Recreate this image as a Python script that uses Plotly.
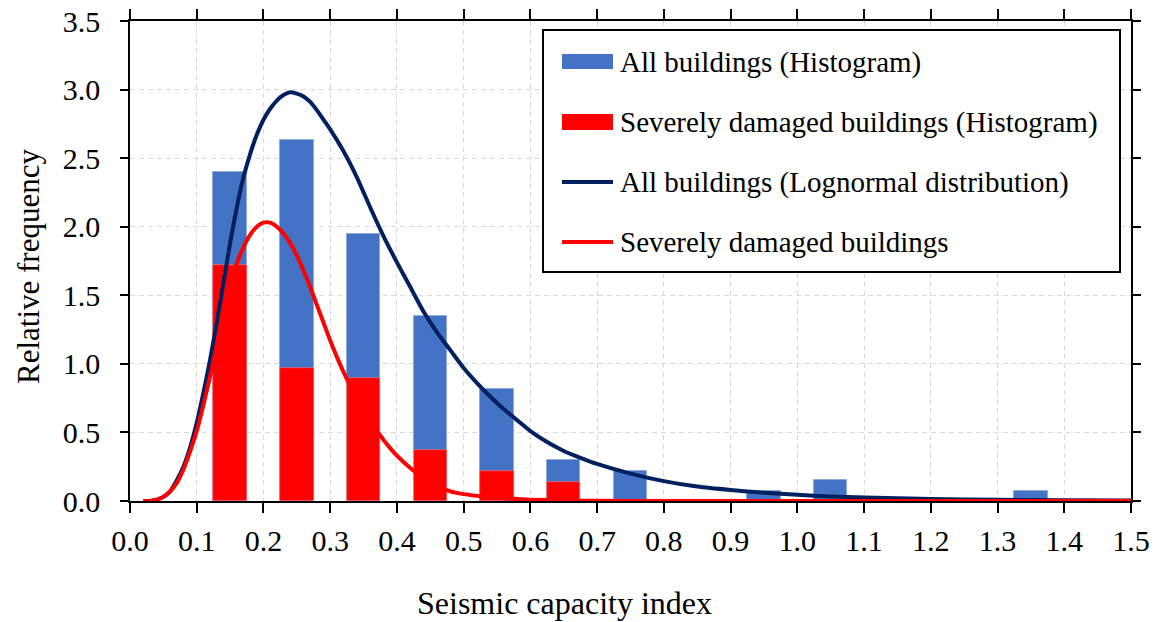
import plotly.graph_objects as go

# Histogram bins (bin centres, bin width 0.05 drawn)
bin_centers = [0.15, 0.25, 0.35, 0.45, 0.55, 0.65, 0.75, 0.85, 0.95, 1.05, 1.15, 1.25, 1.35]
all_hist = [2.40, 2.63, 1.95, 1.35, 0.82, 0.30, 0.22, 0.0, 0.07, 0.15, 0.0, 0.0, 0.07]
severe_hist = [1.72, 0.97, 0.90, 0.37, 0.22, 0.14, 0.0, 0.0, 0.0, 0.0, 0.0, 0.0, 0.0]

# Fitted lognormal density, all buildings
all_curve_x = [0.02, 0.03, 0.04, 0.05, 0.06, 0.07, 0.08, 0.09, 0.10, 0.11, 0.12, 0.13,
               0.14, 0.15, 0.16, 0.17, 0.18, 0.19, 0.20, 0.21, 0.22, 0.23, 0.24, 0.25,
               0.26, 0.27, 0.28, 0.29, 0.30, 0.32, 0.34, 0.36, 0.38, 0.40, 0.42, 0.44,
               0.46, 0.48, 0.50, 0.52, 0.54, 0.56, 0.58, 0.60, 0.625, 0.65, 0.675, 0.70,
               0.75, 0.80, 0.85, 0.90, 0.95, 1.00, 1.05, 1.10, 1.20, 1.30, 1.40, 1.50]
all_curve_y = [0.00, 0.00, 0.01, 0.03, 0.07, 0.15, 0.25, 0.39, 0.57, 0.79, 1.03, 1.30,
               1.59, 1.88, 2.14, 2.36, 2.53, 2.67, 2.78, 2.86, 2.92, 2.96, 2.98, 2.97,
               2.95, 2.91, 2.85, 2.78, 2.71, 2.55, 2.36, 2.14, 1.93, 1.74, 1.56, 1.38,
               1.23, 1.10, 0.97, 0.86, 0.76, 0.67, 0.59, 0.51, 0.43, 0.365, 0.315, 0.27,
               0.20, 0.145, 0.105, 0.08, 0.06, 0.045, 0.033, 0.025, 0.015, 0.009, 0.005, 0.003]

# Fitted density, severely damaged buildings
severe_curve_x = [0.02, 0.03, 0.04, 0.05, 0.06, 0.07, 0.08, 0.09, 0.10, 0.11, 0.12, 0.13,
                  0.14, 0.15, 0.16, 0.17, 0.18, 0.19, 0.20, 0.21, 0.22, 0.23, 0.24, 0.25,
                  0.26, 0.27, 0.28, 0.29, 0.30, 0.31, 0.32, 0.33, 0.34, 0.36, 0.38, 0.40,
                  0.42, 0.44, 0.46, 0.48, 0.50, 0.53, 0.56, 0.60, 0.65, 0.70, 0.80, 1.00,
                  1.25, 1.50]
severe_curve_y = [0.00, 0.00, 0.01, 0.03, 0.07, 0.13, 0.23, 0.36, 0.51, 0.70, 0.91, 1.13,
                  1.36, 1.57, 1.73, 1.85, 1.94, 2.00, 2.03, 2.03, 2.00, 1.95, 1.88, 1.79,
                  1.68, 1.56, 1.43, 1.30, 1.17, 1.05, 0.94, 0.84, 0.745, 0.58, 0.445, 0.33,
                  0.24, 0.165, 0.11, 0.07, 0.05, 0.032, 0.02, 0.01, 0.004, 0.001, 0.0, 0.0,
                  0.0, 0.0]

x_ticks = [round(0.1 * i, 1) for i in range(16)]
y_ticks = [0.5 * i for i in range(8)]

BLUE = "#4472C4"
RED = "#FF0000"
NAVY = "#002060"
FONT = "Liberation Serif"

legend_labels = [
    "All buildings (Histogram)",
    "Severely damaged buildings (Histogram)",
    "All buildings (Lognormal distribution)",
    "Severely damaged buildings",
]

fig = go.Figure()
fig.add_trace(go.Bar(x=bin_centers, y=all_hist, width=0.05, name=legend_labels[0],
                     marker=dict(color=BLUE, line=dict(color="#8FAADC", width=1))))
fig.add_trace(go.Bar(x=bin_centers, y=severe_hist, width=0.05, name=legend_labels[1],
                     marker=dict(color=RED, line=dict(color="#FF8080", width=0.6))))
fig.add_trace(go.Scatter(x=all_curve_x, y=all_curve_y, mode="lines", name=legend_labels[2],
                         line=dict(color=NAVY, width=4, shape="spline", smoothing=0.5)))
fig.add_trace(go.Scatter(x=severe_curve_x, y=severe_curve_y, mode="lines", name=legend_labels[3],
                         line=dict(color=RED, width=4, shape="spline", smoothing=0.5)))

W, H = 1158, 622
ML, MR, MT, MB = 130, 27, 21, 121
PW, PH = W - ML - MR, H - MT - MB


def px_x(p):
    return (p - ML) / PW


def px_y(p):
    return (H - MB - p) / PH


shapes = [
    # legend frame
    dict(type="rect", xref="paper", yref="paper", x0=px_x(543), x1=px_x(1120),
         y0=px_y(272), y1=px_y(30), line=dict(color="black", width=2),
         fillcolor="white", layer="above"),
    # legend swatches
    dict(type="rect", xref="paper", yref="paper", x0=px_x(562), x1=px_x(613),
         y0=px_y(69), y1=px_y(54), line=dict(width=0), fillcolor=BLUE, layer="above"),
    dict(type="rect", xref="paper", yref="paper", x0=px_x(562), x1=px_x(613),
         y0=px_y(130), y1=px_y(114), line=dict(width=0), fillcolor=RED, layer="above"),
    dict(type="line", xref="paper", yref="paper", x0=px_x(562), x1=px_x(613),
         y0=px_y(182), y1=px_y(182), line=dict(color=NAVY, width=4), layer="above"),
    dict(type="line", xref="paper", yref="paper", x0=px_x(562), x1=px_x(613),
         y0=px_y(242), y1=px_y(242), line=dict(color=RED, width=4), layer="above"),
]

annotations = []
for label, yc in zip(legend_labels, [62, 122, 182, 242]):
    annotations.append(dict(text=label, xref="paper", yref="paper", x=px_x(618), y=px_y(yc),
                            xanchor="left", yanchor="middle", showarrow=False,
                            font=dict(family=FONT, size=29, color="black")))
annotations.append(dict(text="Seismic capacity index", xref="paper", yref="paper",
                        x=px_x(564), y=px_y(603), xanchor="center", yanchor="middle",
                        showarrow=False, font=dict(family=FONT, size=32, color="black")))
annotations.append(dict(text="Relative frequency", xref="paper", yref="paper",
                        x=px_x(28), y=px_y(267), xanchor="center", yanchor="middle",
                        textangle=-90, showarrow=False,
                        font=dict(family=FONT, size=31, color="black")))

axis_common = dict(showline=True, linecolor="black", linewidth=1.5, mirror="ticks",
                   ticks="outside", tickwidth=1.5, tickcolor="black",
                   showgrid=True, gridcolor="#D9D9D9", gridwidth=1, griddash="5px,4px",
                   zeroline=False, tickfont=dict(family=FONT, size=30, color="black"))

fig.update_layout(
    width=W, height=H,
    margin=dict(l=ML, r=MR, t=MT, b=MB, pad=0, autoexpand=False),
    paper_bgcolor="white", plot_bgcolor="white",
    barmode="overlay", bargap=0,
    showlegend=False,
    shapes=shapes, annotations=annotations,
    xaxis=dict(range=[0, 1.5], tickvals=x_ticks, ticktext=[f"{v:.1f}" for v in x_ticks],
               ticklen=10, ticklabelstandoff=2, **axis_common),
    yaxis=dict(range=[0, 3.5], tickvals=y_ticks, ticktext=[f"{v:.1f}" for v in y_ticks],
               ticklen=8, ticklabelstandoff=14, **axis_common),
)

fig.write_html("out.html")
